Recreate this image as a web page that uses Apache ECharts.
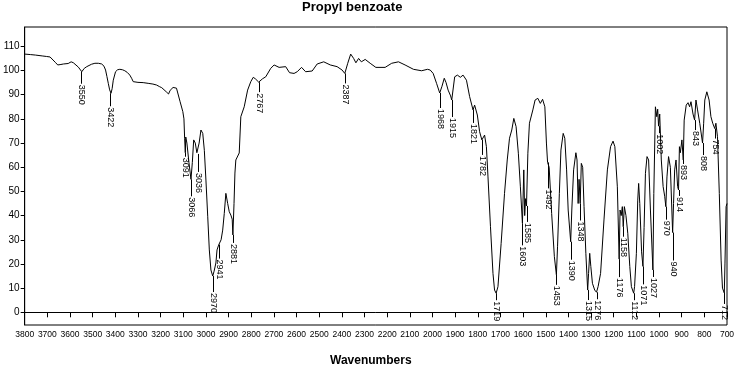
<!DOCTYPE html>
<html><head><meta charset="utf-8">
<script src="https://cdn.jsdelivr.net/npm/echarts@6/dist/echarts.min.js"></script>
<style>html,body{margin:0;padding:0;background:#fff}#c{width:739px;height:369px}</style>
</head><body><div id="c"></div>
<script>
// ---- data ----
const wavenumbers = [3800,3775,3753,3720,3703,3695,3688,3680,3665,3654,3640,3629,3621,3608,3595,3585,3577,3563,3548,3537,3526,3505,3490,3475,3460,3450,3443,3437,3431,3425,3419,3414,3409,3399,3390,3380,3368,3358,3347,3336,3328,3321,3300,3277,3255,3234,3218,3204,3195,3187,3175,3165,3158,3153,3145,3138,3130,3124,3114,3102,3097,3094,3091,3089,3084,3075,3066,3060,3054,3047,3040,3036,3030,3022,3014,3007,3000,2992,2985,2978,2970,2964,2956,2951,2944,2941,2933,2926,2919,2912,2904,2897,2890,2884,2881,2876,2872,2868,2853,2846,2831,2816,2802,2791,2781,2767,2759,2750,2736,2714,2699,2677,2648,2631,2611,2597,2578,2560,2531,2509,2480,2451,2421,2399,2387,2374,2361,2348,2338,2326,2314,2297,2275,2250,2209,2180,2150,2121,2084,2048,2022,2010,1997,1982,1968,1958,1948,1940,1931,1920,1915,1902,1890,1877,1865,1850,1836,1821,1814,1802,1792,1782,1770,1762,1755,1744,1733,1726,1719,1711,1697,1682,1670,1660,1650,1641,1631,1621,1612,1603,1597,1593,1589,1585,1579,1572,1557,1547,1535,1524,1514,1504,1497,1492,1485,1474,1462,1453,1448,1440,1433,1423,1416,1408,1401,1390,1385,1377,1367,1362,1357,1353,1348,1343,1337,1331,1323,1315,1311,1306,1301,1294,1284,1276,1269,1258,1243,1228,1214,1203,1195,1184,1176,1172,1167,1162,1158,1153,1146,1138,1129,1122,1112,1108,1100,1094,1090,1085,1077,1071,1066,1060,1053,1046,1038,1027,1023,1016,1010,1006,1002,997,990,982,975,970,965,958,950,940,936,931,925,918,914,910,906,899,893,889,880,872,865,859,850,843,837,830,820,808,803,798,789,779,771,763,754,749,742,734,726,720,712,709,704,700];
const transmittance = [106.8,106.6,106.4,106.0,105.8,106.3,105.6,105.0,103.4,102.3,102.5,102.7,102.3,102.9,103.6,103.2,102.7,101.4,99.5,100.9,101.6,102.6,103.0,103.0,102.7,101.8,100.2,97.5,94.7,92.0,90.6,92.5,96.0,99.5,100.3,100.5,100.3,99.9,99.2,98.1,96.8,95.4,95.1,95.0,94.7,94.4,94.0,93.3,92.9,92.6,91.2,90.3,91.8,92.6,93.0,93.0,92.7,91.9,87.1,83.0,80.0,72.0,66.0,72.5,70.0,62.0,55.0,62.0,71.3,70.0,66.0,65.5,70.0,75.4,74.0,67.0,54.7,39.5,25.8,17.5,15.0,17.0,20.4,25.8,27.8,28.0,30.0,34.0,40.9,49.2,45.0,41.6,40.2,38.5,32.0,45.0,57.6,63.0,65.9,80.9,85.0,91.9,95.4,97.2,96.5,95.2,96.0,96.6,97.4,100.9,102.3,101.3,101.6,99.1,98.8,99.5,101.3,99.5,99.8,102.7,103.6,102.3,101.6,100.2,98.8,103.0,106.8,105.0,103.2,105.0,103.6,104.6,103.0,101.3,101.3,103.0,103.6,102.3,100.5,99.9,100.5,100.2,98.8,94.7,90.7,93.5,96.8,95.0,91.9,89.5,87.8,97.4,98.1,97.2,98.1,96.0,89.2,83.7,85.7,81.6,74.7,71.3,73.3,68.5,56.0,35.4,16.1,9.2,7.9,10.6,28.5,49.2,63.0,72.0,75.4,80.2,76.8,65.8,51.9,36.8,58.9,40.0,47.0,44.0,65.8,78.2,83.7,87.8,88.5,86.4,88.1,85.0,70.0,62.0,60.0,40.9,23.0,15.5,27.1,49.2,67.1,74.0,72.0,58.9,42.3,29.2,42.3,58.9,66.0,63.0,45.0,55.0,45.0,61.6,60.0,43.7,24.4,9.2,16.1,24.4,18.9,12.0,9.2,8.3,10.6,16.1,38.2,58.9,68.5,70.8,68.5,51.9,22.0,42.3,40.0,43.7,35.4,43.7,40.0,32.7,18.9,10.6,7.9,10.6,24.4,46.4,53.3,45.0,25.0,19.0,35.0,57.5,64.4,63.0,42.3,17.5,49.2,85.0,80.9,84.0,77.0,82.0,63.0,52.0,48.0,43.7,56.0,64.4,60.0,33.0,45.0,58.9,63.0,52.0,50.6,68.5,66.0,71.3,63.0,79.5,85.7,86.7,85.0,87.1,82.0,79.5,87.8,83.7,78.0,70.0,78.2,87.8,91.2,87.8,80.9,78.2,76.0,78.2,72.6,49.2,21.6,10.0,8.0,20.0,43.7,45.0];

const peakText = ['3550','3422','3091','3066','3036','2970','2941','2881','2767','2387','1968','1915','1821','1782','1719','1603','1585','1492','1453','1390','1348','1315','1276','1176','1158','1112','1071','1027','1002','970','940','914','893','843','808','754','712'];
const peakWn = peakText.map(Number);
const peakT = [99.5,90.6,66.0,55.0,65.5,15.0,28.0,32.0,95.2,98.8,90.7,87.8,83.7,71.3,7.9,36.8,44.0,62.0,15.5,29.2,45.0,9.2,8.3,22.0,35.4,7.9,19.0,17.5,77.0,43.7,33.0,50.6,63.0,79.5,70.0,76.0,8.0];

const xMin = 700, xMax = 3800, xStep = 100;
const yTicks = [0,10,20,30,40,50,60,70,80,90,100,110];

// ---- layout (leader line lengths in px) ----
const peakLeader = [12,13,4,17,18,16,14,8,10,10,15,17,13,15,7,22,16,26,10,18,17,10,7,18,10,7,18,7,7,13,28,6,4,10,12,10,11];

const chart = echarts.init(document.getElementById('c'), null, {renderer:'canvas'});
const lineData = wavenumbers.map((w,i)=>[w, transmittance[i]]);
const peakData = peakWn.map((w,i)=>[w, peakT[i], i]);
const txt = '#000';
const FONT = '"Liberation Sans", Arial, sans-serif';

chart.setOption({
  animation:false,
  backgroundColor:'#fff',
  grid:{left:21, right:12, top:27, bottom:44, show:true, borderColor:'#000', borderWidth:1, backgroundColor:'transparent'},
  xAxis:{
    type:'value', inverse:true, min:xMin, max:xMax, interval:xStep,
    axisLine:{lineStyle:{color:'#000', width:1}},
    axisTick:{show:true, length:5, lineStyle:{color:'#000'}},
    axisLabel:{color:txt, fontSize:8.5, fontFamily:FONT, margin:5, formatter:function(v){return String(v);}},
    splitLine:{show:false}
  },
  yAxis:{
    type:'value', min:-5.25, max:118,
    axisLine:{show:true, lineStyle:{color:'#000', width:1}},
    axisTick:{show:true, length:4, lineStyle:{color:'#000'}, customValues:yTicks},
    axisLabel:{color:txt, fontSize:10, fontFamily:FONT, margin:5, customValues:yTicks},
    splitLine:{show:false}
  },
  graphic:[
    {type:'text', left:302, top:1, style:{text:'Propyl benzoate', font:'bold 13px ' + FONT, fill:'#000'}},
    {type:'text', left:330, top:355, style:{text:'Wavenumbers', font:'bold 12px ' + FONT, fill:'#000'}}
  ],
  series:[
    {type:'line', data:lineData, showSymbol:false, symbol:'none', lineStyle:{color:'#000', width:1}, z:2},
    {type:'custom', data:peakData, clip:false, z:3,
     renderItem:function(params, api){
       const i = api.value(2);
       const p = api.coord([api.value(0), api.value(1)]);
       const x = Math.round(p[0]) + 0.5;
       const len = peakLeader[i];
       return {type:'group', children:[
         {type:'line', shape:{x1:x, y1:p[1], x2:x, y2:p[1]+len}, style:{stroke:'#000', lineWidth:1}},
         {type:'text', x:x, y:p[1]+len+1, rotation:-Math.PI/2,
          style:{text:peakText[i], fill:'#000', font:'9px ' + FONT, align:'left', verticalAlign:'middle'}}
       ]};
     }}
  ]
});
</script></body></html>
